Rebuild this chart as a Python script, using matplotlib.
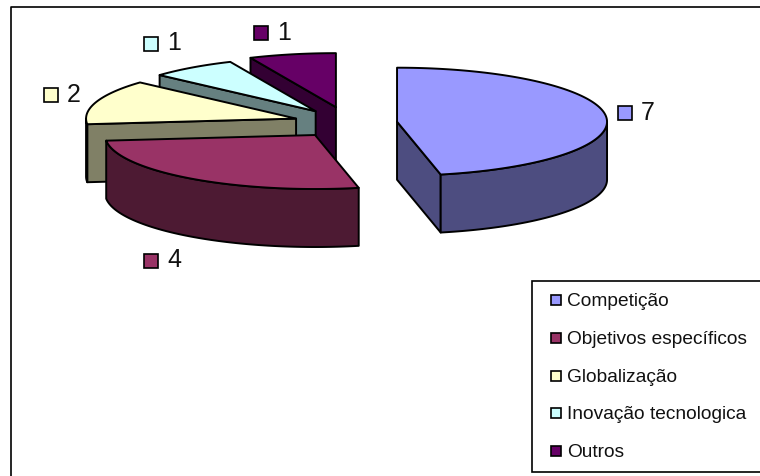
import numpy as np
import matplotlib
matplotlib.use("Agg")
import matplotlib.pyplot as plt
from matplotlib.patches import Polygon, Rectangle

categories = ["Competição", "Objetivos específicos", "Globalização", "Inovação tecnologica", "Outros"]
values = [7, 4, 2, 1, 1]
top_colors = ["#9999FF", "#993366", "#FFFFCC", "#CCFFFF", "#660066"]
side_colors = ["#4D4D80", "#4D1A33", "#808066", "#668080", "#330033"]
explode = [0.23, 0.275, 0.265, 0.27, 0.30]

W, H = 760, 477
CX, CY = 349, 124
RX, RY, DEPTH = 210, 54, 58
LW = 1.4

fig = plt.figure(figsize=(W / 100, H / 100), dpi=100)
ax = fig.add_axes([0, 0, 1, 1])
ax.set_xlim(0, W)
ax.set_ylim(H, 0)
ax.axis("off")
plt.rcParams["font.family"] = ["Liberation Sans", "DejaVu Sans"]


def pt(c, deg):
    t = np.radians(deg)
    return np.array([c[0] + RX * np.sin(t), c[1] - RY * np.cos(t)])


def arc(c, a, b):
    t = np.radians(np.linspace(a, b, max(int(abs(b - a)), 2) + 1))
    return np.column_stack([c[0] + RX * np.sin(t), c[1] - RY * np.cos(t)])


def face(xy, color, z):
    ax.add_patch(Polygon(xy, closed=True, fc=color, ec="black", lw=LW, joinstyle="round", zorder=z))


down = np.array([0, DEPTH])
total = sum(values)
edges = np.concatenate([[0], np.cumsum(values)]) / total * 360
draw_order = [4, 3, 2, 1, 0]
for z, i in enumerate(draw_order):
    a, b = edges[i], edges[i + 1]
    mid = np.radians((a + b) / 2)
    c = np.array([CX + explode[i] * RX * np.sin(mid), CY - explode[i] * RY * np.cos(mid)])
    base = z * 10 + 3
    # radial walls that face the viewer
    if 0 < a < 360 and a > 180:
        e = pt(c, a)
        face([c, e, e + down, c + down], side_colors[i], base)
    if 0 < b < 180:
        e = pt(c, b)
        face([c, e, e + down, c + down], side_colors[i], base)
    # outer rim on the front half
    lo, hi = max(a, 90), min(b, 270)
    if hi > lo:
        rim = arc(c, lo, hi)
        face(np.vstack([rim, (rim + down)[::-1]]), side_colors[i], base + 1)
    # top
    face(np.vstack([[c], arc(c, a, b)]), top_colors[i], base + 2)

# chart frame, open on the right and bottom where the image cuts it
ax.plot([10.5, 10.5, W + 5], [H + 5, 7.5, 7.5], color="black", lw=1.2, zorder=100, clip_on=True)

# data labels
label_boxes = [(618, 107), (144, 255), (44, 89), (144, 38), (254, 27)]
for i, (x, y) in enumerate(label_boxes):
    ax.add_patch(Rectangle((x, y), 14, 14, fc=top_colors[i], ec="black", lw=1.2, zorder=110))
    ax.text(x + 23, y + 5.5, str(values[i]), fontsize=18, color="#111111", va="center", ha="left", zorder=110)

# legend
ax.add_patch(Rectangle((531.5, 281.5), 260, 191.5, fc="white", ec="black", lw=1.2, zorder=105))
legend_y = [301, 339, 377, 414, 452]
for i, name in enumerate(categories):
    ax.add_patch(Rectangle((550.5, legend_y[i] - 5), 10, 10, fc=top_colors[i], ec="black", lw=1.2, zorder=110))
    ax.text(567, legend_y[i] + 1, name, fontsize=13.8, color="#111111", va="center", ha="left", zorder=110)

fig.savefig("out.png", dpi=100)
